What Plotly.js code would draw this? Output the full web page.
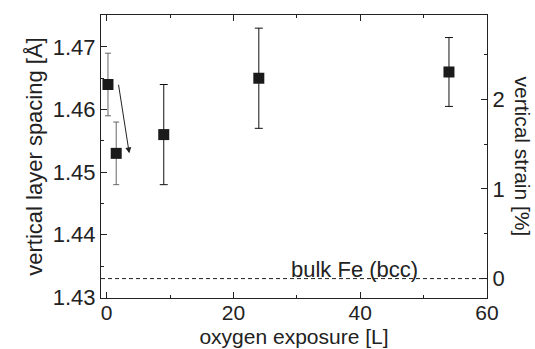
<!DOCTYPE html>
<html>
<head>
<meta charset="utf-8">
<script src="https://cdn.plot.ly/plotly-3.0.1.min.js"></script>
<style>
html,body{margin:0;padding:0;background:#fff;}
#chart{width:535px;height:349px;}
</style>
</head>
<body>
<div id="chart"></div>
<script>
// Data
const exposure = [0.2, 1.5, 9.0, 24.0, 54.0];          // oxygen exposure [L]
const spacing  = [1.464, 1.453, 1.456, 1.465, 1.466];   // vertical layer spacing [Å]
const spacingErr = [0.005, 0.005, 0.008, 0.008, 0.0055];
const grayIdx = [0, 1];       // points with grey error bars
const blackIdx = [2, 3, 4];   // points with black error bars
const bulkFe = 1.433;         // bulk Fe (bcc) layer spacing [Å]
const arrowFrom = [1.83, 1.4642];
const arrowTo = [3.56, 1.453];
const xRange = [-0.9, 60];
const yRange = [1.4299, 1.4751];
const xTicks = [0, 20, 40, 60];
const yTicks = [1.43, 1.44, 1.45, 1.46, 1.47];
const strainTicks = [0, 1, 2];

const pick = (arr, idx) => idx.map(i => arr[i]);
const strainRange = yRange.map(d => (d - bulkFe) / bulkFe * 100);

const FONT = '"Liberation Sans", Arial, sans-serif';
const INK = '#222';

const traces = [
  {
    x: pick(exposure, grayIdx), y: pick(spacing, grayIdx),
    type: 'scatter', mode: 'markers',
    marker: {symbol: 'square', size: 11, color: '#1a1a1a'},
    error_y: {type: 'data', array: pick(spacingErr, grayIdx), visible: true,
              color: '#666', thickness: 1, width: 3},
    showlegend: false, hoverinfo: 'skip'
  },
  {
    x: pick(exposure, blackIdx), y: pick(spacing, blackIdx),
    type: 'scatter', mode: 'markers',
    marker: {symbol: 'square', size: 11, color: '#1a1a1a'},
    error_y: {type: 'data', array: pick(spacingErr, blackIdx), visible: true,
              color: '#111', thickness: 1, width: 4},
    showlegend: false, hoverinfo: 'skip'
  },
  {
    x: [], y: [], yaxis: 'y2', type: 'scatter', mode: 'markers',
    showlegend: false, hoverinfo: 'skip'
  }
];

const layout = {
  width: 535, height: 349,
  margin: {l: 101, r: 48, t: 15, b: 51},
  paper_bgcolor: '#fff', plot_bgcolor: '#fff',
  font: {family: FONT, size: 22, color: INK},
  showlegend: false,
  xaxis: {
    range: xRange, tickvals: xTicks, ticktext: xTicks.map(String),
    showgrid: false, zeroline: false,
    showline: true, linecolor: INK, linewidth: 1, mirror: 'ticks',
    ticks: 'inside', ticklen: 6, tickcolor: INK, tickwidth: 1,
    ticklabelstandoff: -4,
    minor: {dtick: 10, ticks: 'inside', ticklen: 3, tickcolor: INK, showgrid: false},
    tickfont: {family: FONT, size: 21, color: INK},
    title: {text: 'oxygen exposure [L]', font: {family: FONT, size: 21, color: INK}, standoff: 6}
  },
  yaxis: {
    range: yRange, tickvals: yTicks, ticktext: yTicks.map(v => v.toFixed(2)),
    showgrid: false, zeroline: false,
    showline: true, linecolor: INK, linewidth: 1, mirror: false,
    ticks: 'inside', ticklen: 6, tickcolor: INK, tickwidth: 1,
    minor: {dtick: 0.005, ticks: 'inside', ticklen: 3, tickcolor: INK, showgrid: false},
    tickfont: {family: FONT, size: 22, color: INK},
    title: {text: 'vertical layer spacing [Å]', font: {family: FONT, size: 22, color: INK}, standoff: 4}
  },
  yaxis2: {
    overlaying: 'y', side: 'right', anchor: 'x',
    range: strainRange, tickvals: strainTicks, ticktext: strainTicks.map(String),
    showgrid: false, zeroline: false,
    showline: true, linecolor: INK, linewidth: 1,
    ticks: 'inside', ticklen: 6, tickcolor: INK, tickwidth: 1,
    minor: {dtick: 0.5, ticks: 'inside', ticklen: 3, tickcolor: INK, showgrid: false},
    tickfont: {family: FONT, size: 22, color: INK}
  },
  shapes: [
    {type: 'line', xref: 'paper', x0: 0, x1: 1, yref: 'y', y0: bulkFe, y1: bulkFe,
     line: {color: INK, width: 1, dash: '4px,3px'}}
  ],
  annotations: [
    {xref: 'x', yref: 'y', x: arrowTo[0], y: arrowTo[1],
     axref: 'x', ayref: 'y', ax: arrowFrom[0], ay: arrowFrom[1],
     showarrow: true, arrowhead: 2, arrowsize: 1.2, arrowwidth: 1, arrowcolor: INK, text: ''},
    {xref: 'x', yref: 'y', x: 39.1, y: bulkFe, xanchor: 'center', yanchor: 'bottom',
     yshift: -5, showarrow: false, text: 'bulk Fe (bcc)',
     font: {family: FONT, size: 22, color: INK}},
    {xref: 'paper', yref: 'paper', x: 1, y: 0.5, xanchor: 'center', yanchor: 'middle',
     xshift: 35, showarrow: false, textangle: 90, text: 'vertical strain [%]',
     font: {family: FONT, size: 21, color: INK}}
  ]
};

Plotly.newPlot('chart', traces, layout, {staticPlot: true, displayModeBar: false});
</script>
</body>
</html>
